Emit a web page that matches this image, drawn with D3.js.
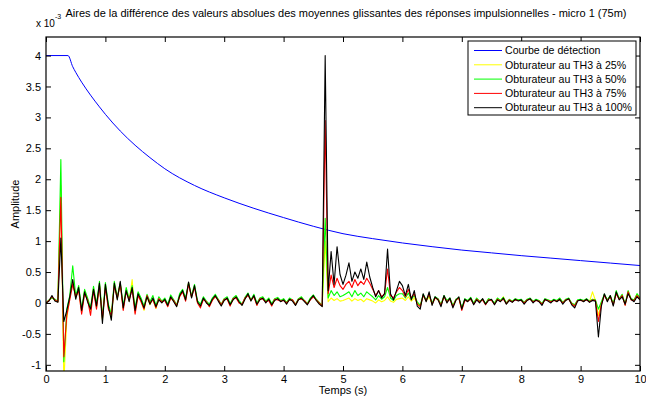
<!DOCTYPE html>
<html>
<head>
<meta charset="utf-8">
<script src="https://cdn.jsdelivr.net/npm/d3@7"></script>
<style>
  body { margin: 0; background: #fff; }
  svg { display: block; font-family: "Liberation Sans", Arial, sans-serif; }
</style>
</head>
<body>
<div id="chart"></div>
<script>
// Detection curve (x 10^-3)
const detTimes = [0, 0.37, 0.45, 0.5, 0.6, 0.75, 0.9, 1.0, 1.25, 1.5, 1.75, 2, 2.5, 3, 3.5, 4, 4.5, 5, 5.5, 6, 6.5, 7, 7.5, 8, 8.5, 9, 9.5, 10];
const detValues = [4, 4, 3.82, 3.73, 3.57, 3.36, 3.17, 3.05, 2.78, 2.55, 2.35, 2.17, 1.9, 1.7, 1.53, 1.38, 1.24, 1.12, 1.04, 0.97, 0.91, 0.855, 0.81, 0.765, 0.725, 0.685, 0.645, 0.605];

// sample times, 0.05 s step
const times = d3.range(0, 201).map(i => +(i * 0.05).toFixed(2));

const yellow25 = [
  0.00, 0.04, 0.09, 0.04, 0.02, 1.90, -1.30, -0.25, 0.08, 0.35, 0.08, 0.22, -0.15, 0.20, 0.04, -0.12, 0.24, -0.08, 0.30, -0.28,
  0.28, -0.08, -0.25, 0.30, 0.06, 0.32, -0.10, 0.22, 0.03, 0.38, -0.15, 0.14, 0.03, -0.12, 0.11, -0.03, 0.06, -0.09, 0.06, 0.01,
  0.05, -0.05, 0.09, 0.03, -0.05, 0.11, 0.19, 0.04, 0.33, 0.09, 0.27, 0.01, -0.06, 0.07, 0.01, -0.05, 0.05, 0.11, 0.04, -0.04,
  0.05, 0.07, -0.04, 0.06, 0.11, 0.01, -0.03, 0.07, 0.14, 0.04, 0.11, -0.03, 0.06, 0.09, 0.01, 0.07, -0.04, 0.05, 0.08, 0.03,
  0.06, -0.01, 0.07, 0.04, -0.03, 0.06, 0.09, 0.03, -0.02, 0.07, 0.12, 0.05, -0.01, -0.05, 1.00, 0.02, 0.08, 0.04, 0.07, 0.03,
  0.04, 0.06, 0.08, 0.03, 0.07, 0.04, 0.06, 0.02, 0.07, 0.05, 0.03, 0.00, 0.05, 0.02, 0.04, 0.10, 0.03, 0.01, 0.06, 0.07,
  0.08, 0.04, 0.10, 0.03, 0.08, 0.00, -0.05, 0.12, 0.03, 0.10, -0.02, 0.08, 0.05, -0.03, 0.10, 0.02, 0.07, -0.05, 0.05, 0.08,
  -0.10, 0.05, 0.03, 0.08, -0.01, 0.07, 0.02, 0.06, -0.02, 0.06, 0.05, -0.01, 0.07, 0.03, 0.10, -0.01, 0.05, 0.02, 0.06, 0.04,
  0.05, 0.00, 0.05, 0.07, 0.02, 0.05, 0.03, -0.02, 0.06, 0.04, 0.02, 0.05, 0.03, 0.07, 0.00, 0.05, 0.07, -0.02, -0.04, 0.04,
  0.05, 0.03, 0.06, 0.02, 0.18, 0.04, -0.20, 0.00, 0.13, 0.04, 0.11, -0.02, 0.17, 0.06, 0.13, -0.03, 0.19, 0.06, 0.04, 0.14,
  0.07
];

const green50 = [
  0.00, 0.05, 0.08, 0.06, 0.03, 2.32, -0.95, -0.10, 0.12, 0.60, 0.12, 0.28, -0.10, 0.22, 0.08, -0.08, 0.27, -0.02, 0.35, -0.22,
  0.33, -0.02, -0.18, 0.35, 0.10, 0.33, -0.05, 0.25, 0.06, 0.28, -0.08, 0.18, 0.08, -0.05, 0.14, 0.02, 0.12, -0.04, 0.10, 0.03,
  0.08, -0.02, 0.13, 0.05, -0.03, 0.15, 0.22, 0.08, 0.32, 0.12, 0.30, 0.04, -0.02, 0.10, 0.03, -0.02, 0.08, 0.14, 0.06, -0.02,
  0.07, 0.10, -0.01, 0.08, 0.12, 0.04, -0.02, 0.09, 0.16, 0.05, 0.14, 0.00, 0.08, 0.10, 0.03, 0.08, -0.01, 0.07, 0.09, 0.04,
  0.07, 0.01, 0.08, 0.05, -0.02, 0.07, 0.10, 0.04, -0.01, 0.08, 0.13, 0.06, 0.01, -0.04, 1.37, 0.08, 0.20, 0.12, 0.18, 0.10,
  0.12, 0.15, 0.18, 0.10, 0.20, 0.12, 0.16, 0.10, 0.18, 0.14, 0.10, 0.05, 0.12, 0.06, 0.10, 0.25, 0.08, 0.04, 0.12, 0.15,
  0.15, 0.08, 0.16, 0.06, 0.12, 0.02, -0.04, 0.14, 0.05, 0.12, 0.00, 0.10, 0.07, -0.02, 0.12, 0.04, 0.08, -0.04, 0.06, 0.09,
  -0.08, 0.07, 0.04, 0.09, 0.00, 0.08, 0.03, 0.06, -0.01, 0.07, 0.05, 0.00, 0.08, 0.04, 0.09, 0.00, 0.06, 0.03, 0.07, 0.05,
  0.06, 0.01, 0.06, 0.08, 0.03, 0.06, 0.04, -0.01, 0.07, 0.05, 0.03, 0.06, 0.04, 0.08, 0.01, 0.06, 0.08, 0.00, -0.03, 0.05,
  0.06, 0.04, 0.07, 0.03, 0.06, 0.05, -0.10, 0.02, 0.14, 0.05, 0.12, -0.01, 0.20, 0.07, 0.14, -0.02, 0.20, 0.07, 0.05, 0.15,
  0.08
];

const red75 = [
  0.00, 0.04, 0.10, 0.05, 0.02, 1.71, -0.87, -0.20, 0.05, 0.30, 0.10, 0.20, -0.18, 0.15, 0.05, -0.20, 0.20, -0.10, 0.28, -0.25,
  0.25, -0.10, -0.20, 0.28, 0.08, 0.30, -0.12, 0.18, 0.05, 0.22, -0.18, 0.12, 0.02, -0.10, 0.12, 0.00, 0.05, -0.08, 0.07, 0.02,
  0.04, -0.06, 0.08, 0.04, -0.04, 0.10, 0.18, 0.03, 0.30, 0.10, 0.25, 0.00, -0.08, 0.06, 0.02, -0.06, 0.04, 0.10, 0.05, -0.03,
  0.06, 0.06, -0.05, 0.07, 0.08, 0.00, -0.02, 0.08, 0.12, 0.05, 0.10, -0.04, 0.07, 0.06, 0.02, 0.04, -0.05, 0.06, 0.05, 0.03,
  0.04, 0.00, 0.05, 0.05, -0.03, 0.06, 0.06, 0.04, -0.02, 0.05, 0.10, 0.05, 0.00, -0.05, 2.95, 0.15, 0.45, 0.25, 0.40, 0.28,
  0.22, 0.30, 0.35, 0.25, 0.38, 0.28, 0.35, 0.30, 0.40, 0.32, 0.22, 0.12, 0.20, 0.10, 0.15, 0.55, 0.12, 0.08, 0.18, 0.25,
  0.20, 0.10, 0.22, 0.08, 0.15, -0.02, -0.06, 0.12, 0.04, 0.14, -0.02, 0.08, 0.06, -0.04, 0.10, 0.02, 0.06, -0.06, 0.05, 0.08,
  -0.12, 0.04, 0.03, 0.06, -0.02, 0.06, 0.02, 0.05, -0.03, 0.05, 0.04, -0.02, 0.06, 0.03, 0.06, -0.01, 0.05, 0.02, 0.05, 0.04,
  0.04, 0.00, 0.05, 0.06, 0.02, 0.04, 0.03, -0.02, 0.05, 0.04, 0.02, 0.04, 0.03, 0.05, 0.00, 0.05, 0.06, -0.01, -0.05, 0.04,
  0.04, 0.03, 0.05, 0.02, 0.05, 0.04, -0.30, -0.02, 0.12, 0.04, 0.10, -0.03, 0.15, 0.06, 0.12, -0.04, 0.18, 0.05, 0.04, 0.12,
  0.06
];

const black100 = [
  0.00, 0.03, 0.12, 0.03, 0.01, 1.05, -0.30, -0.12, 0.10, 0.38, 0.06, 0.25, -0.12, 0.18, 0.02, -0.10, 0.22, -0.05, 0.32, -0.33,
  0.30, -0.05, -0.28, 0.32, 0.05, 0.35, -0.08, 0.20, 0.02, 0.25, -0.12, 0.15, 0.05, -0.08, 0.10, -0.02, 0.08, -0.06, 0.05, 0.00,
  0.06, -0.04, 0.10, 0.02, -0.06, 0.12, 0.20, 0.05, 0.34, 0.08, 0.28, 0.02, -0.05, 0.08, 0.00, -0.04, 0.06, 0.12, 0.03, -0.05,
  0.04, 0.08, -0.03, 0.05, 0.10, 0.02, -0.04, 0.06, 0.15, 0.03, 0.12, -0.02, 0.05, 0.08, 0.00, 0.06, -0.03, 0.04, 0.07, 0.02,
  0.05, -0.02, 0.06, 0.03, -0.04, 0.05, 0.08, 0.02, -0.03, 0.06, 0.12, 0.04, -0.02, -0.06, 4.00, 0.20, 0.83, 0.30, 0.91, 0.46,
  0.30, 0.45, 0.65, 0.35, 0.50, 0.40, 0.55, 0.38, 0.66, 0.42, 0.25, 0.10, 0.20, 0.08, 0.15, 0.87, 0.15, 0.05, 0.20, 0.35,
  0.28, 0.12, 0.30, 0.05, 0.20, -0.05, -0.10, 0.15, 0.02, 0.18, -0.04, 0.10, 0.05, -0.06, 0.12, 0.00, 0.08, -0.08, 0.04, 0.10,
  -0.10, 0.06, 0.02, 0.08, -0.03, 0.05, 0.00, 0.07, -0.02, 0.04, 0.06, -0.03, 0.05, 0.02, 0.08, -0.02, 0.04, 0.01, 0.06, 0.03,
  0.05, -0.02, 0.04, 0.07, 0.00, 0.05, 0.02, -0.04, 0.06, 0.03, 0.00, 0.05, 0.02, 0.06, -0.02, 0.04, 0.07, -0.03, -0.08, 0.03,
  0.05, 0.02, 0.06, 0.01, 0.04, 0.03, -0.55, -0.05, 0.15, 0.02, 0.12, -0.05, 0.18, 0.05, 0.10, -0.02, 0.15, 0.06, 0.02, 0.10,
  0.05
];

const legendLabels = ["Courbe de détection", "Obturateur au TH3 à 25%", "Obturateur au TH3 à 50%", "Obturateur au TH3 à 75%", "Obturateur au TH3 à 100%"];
const seriesColors = ["#0000ff", "#ffff00", "#00ff00", "#ff0000", "#000000"];
const xTicks = [0, 1, 2, 3, 4, 5, 6, 7, 8, 9, 10];
const yTicks = [-1, -0.5, 0, 0.5, 1, 1.5, 2, 2.5, 3, 3.5, 4];

const width = 646;
const height = 396;
const margin = { top: 37, right: 6, bottom: 25, left: 46 };

const xScale = d3.scaleLinear().domain([0, 10]).range([margin.left, width - margin.right]);
const yScale = d3.scaleLinear().domain([-1.1, 4.3]).range([height - margin.bottom, margin.top]);

const svg = d3.select("#chart")
  .append("svg")
  .attr("width", width)
  .attr("height", height)
  .attr("viewBox", [0, 0, width, height]);

svg.append("defs").append("clipPath")
  .attr("id", "plot-clip")
  .append("rect")
  .attr("x", margin.left)
  .attr("y", margin.top)
  .attr("width", width - margin.left - margin.right)
  .attr("height", height - margin.top - margin.bottom);

// Lines
const plot = svg.append("g").attr("clip-path", "url(#plot-clip)");

const detLine = d3.line()
  .x((d, i) => xScale(detTimes[i]))
  .y(d => yScale(d))
  .curve(d3.curveMonotoneX);

plot.append("path")
  .attr("d", detLine(detValues))
  .attr("fill", "none")
  .attr("stroke", seriesColors[0])
  .attr("stroke-width", 1);

const sigLine = d3.line()
  .x((d, i) => xScale(times[i]))
  .y(d => yScale(d));

[yellow25, green50, red75, black100].forEach((s, k) => {
  plot.append("path")
    .attr("d", sigLine(s))
    .attr("fill", "none")
    .attr("stroke", seriesColors[k + 1])
    .attr("stroke-width", 1.1)
    .attr("stroke-linejoin", "round");
});

// Axes (MATLAB style, inward ticks on all sides)
const fmt = d => String(d);
const fontSize = 11;

svg.append("g")
  .attr("transform", `translate(0,${height - margin.bottom})`)
  .call(d3.axisBottom(xScale).tickValues(xTicks).tickFormat(fmt).tickSize(-5).tickSizeOuter(0).tickPadding(4))
  .call(g => g.select(".domain").remove())
  .call(g => g.selectAll("text").attr("font-size", fontSize).attr("font-family", null).attr("fill", "#000"));

svg.append("g")
  .attr("transform", `translate(0,${margin.top})`)
  .call(d3.axisTop(xScale).tickValues(xTicks).tickFormat("").tickSize(-5).tickSizeOuter(0))
  .call(g => g.select(".domain").remove());

svg.append("g")
  .attr("transform", `translate(${margin.left},0)`)
  .call(d3.axisLeft(yScale).tickValues(yTicks).tickFormat(fmt).tickSize(-5).tickSizeOuter(0).tickPadding(5))
  .call(g => g.select(".domain").remove())
  .call(g => g.selectAll("text").attr("font-size", fontSize).attr("font-family", null).attr("fill", "#000"));

svg.append("g")
  .attr("transform", `translate(${width - margin.right},0)`)
  .call(d3.axisRight(yScale).tickValues(yTicks).tickFormat("").tickSize(-5).tickSizeOuter(0))
  .call(g => g.select(".domain").remove());

svg.append("rect")
  .attr("x", margin.left)
  .attr("y", margin.top)
  .attr("width", width - margin.left - margin.right)
  .attr("height", height - margin.top - margin.bottom)
  .attr("fill", "none")
  .attr("stroke", "#000")
  .attr("stroke-width", 1.2);

// Titles
svg.append("text")
  .attr("x", 346)
  .attr("y", 17)
  .attr("text-anchor", "middle")
  .attr("font-size", 11)
  .text("Aires de la différence des valeurs absolues des moyennes glissantes des réponses impulsionnelles - micro 1 (75m)");

const expo = svg.append("text")
  .attr("x", 36)
  .attr("y", 27)
  .attr("font-size", 10);
expo.append("tspan").text("x 10");
expo.append("tspan").attr("dy", -8).attr("font-size", 7).text("-3");

svg.append("text")
  .attr("x", 343)
  .attr("y", 394)
  .attr("text-anchor", "middle")
  .attr("font-size", fontSize)
  .text("Temps (s)");

svg.append("text")
  .attr("transform", `translate(19,${(margin.top + height - margin.bottom) / 2}) rotate(-90)`)
  .attr("text-anchor", "middle")
  .attr("font-size", fontSize)
  .text("Amplitude");

// Legend
const legendFont = 10.6;
const legend = svg.append("g").attr("transform", "translate(468,41)");
legend.append("rect")
  .attr("width", 168)
  .attr("height", 74)
  .attr("fill", "#fff")
  .attr("stroke", "#000")
  .attr("stroke-width", 1);

legendLabels.forEach((label, i) => {
  const y = 9.5 + i * 14.3;
  legend.append("line")
    .attr("x1", 6).attr("x2", 34)
    .attr("y1", y).attr("y2", y)
    .attr("stroke", seriesColors[i])
    .attr("stroke-width", 1);
  legend.append("text")
    .attr("x", 37)
    .attr("y", y)
    .attr("dy", "0.35em")
    .attr("font-size", legendFont)
    .text(label);
});
</script>
</body>
</html>
